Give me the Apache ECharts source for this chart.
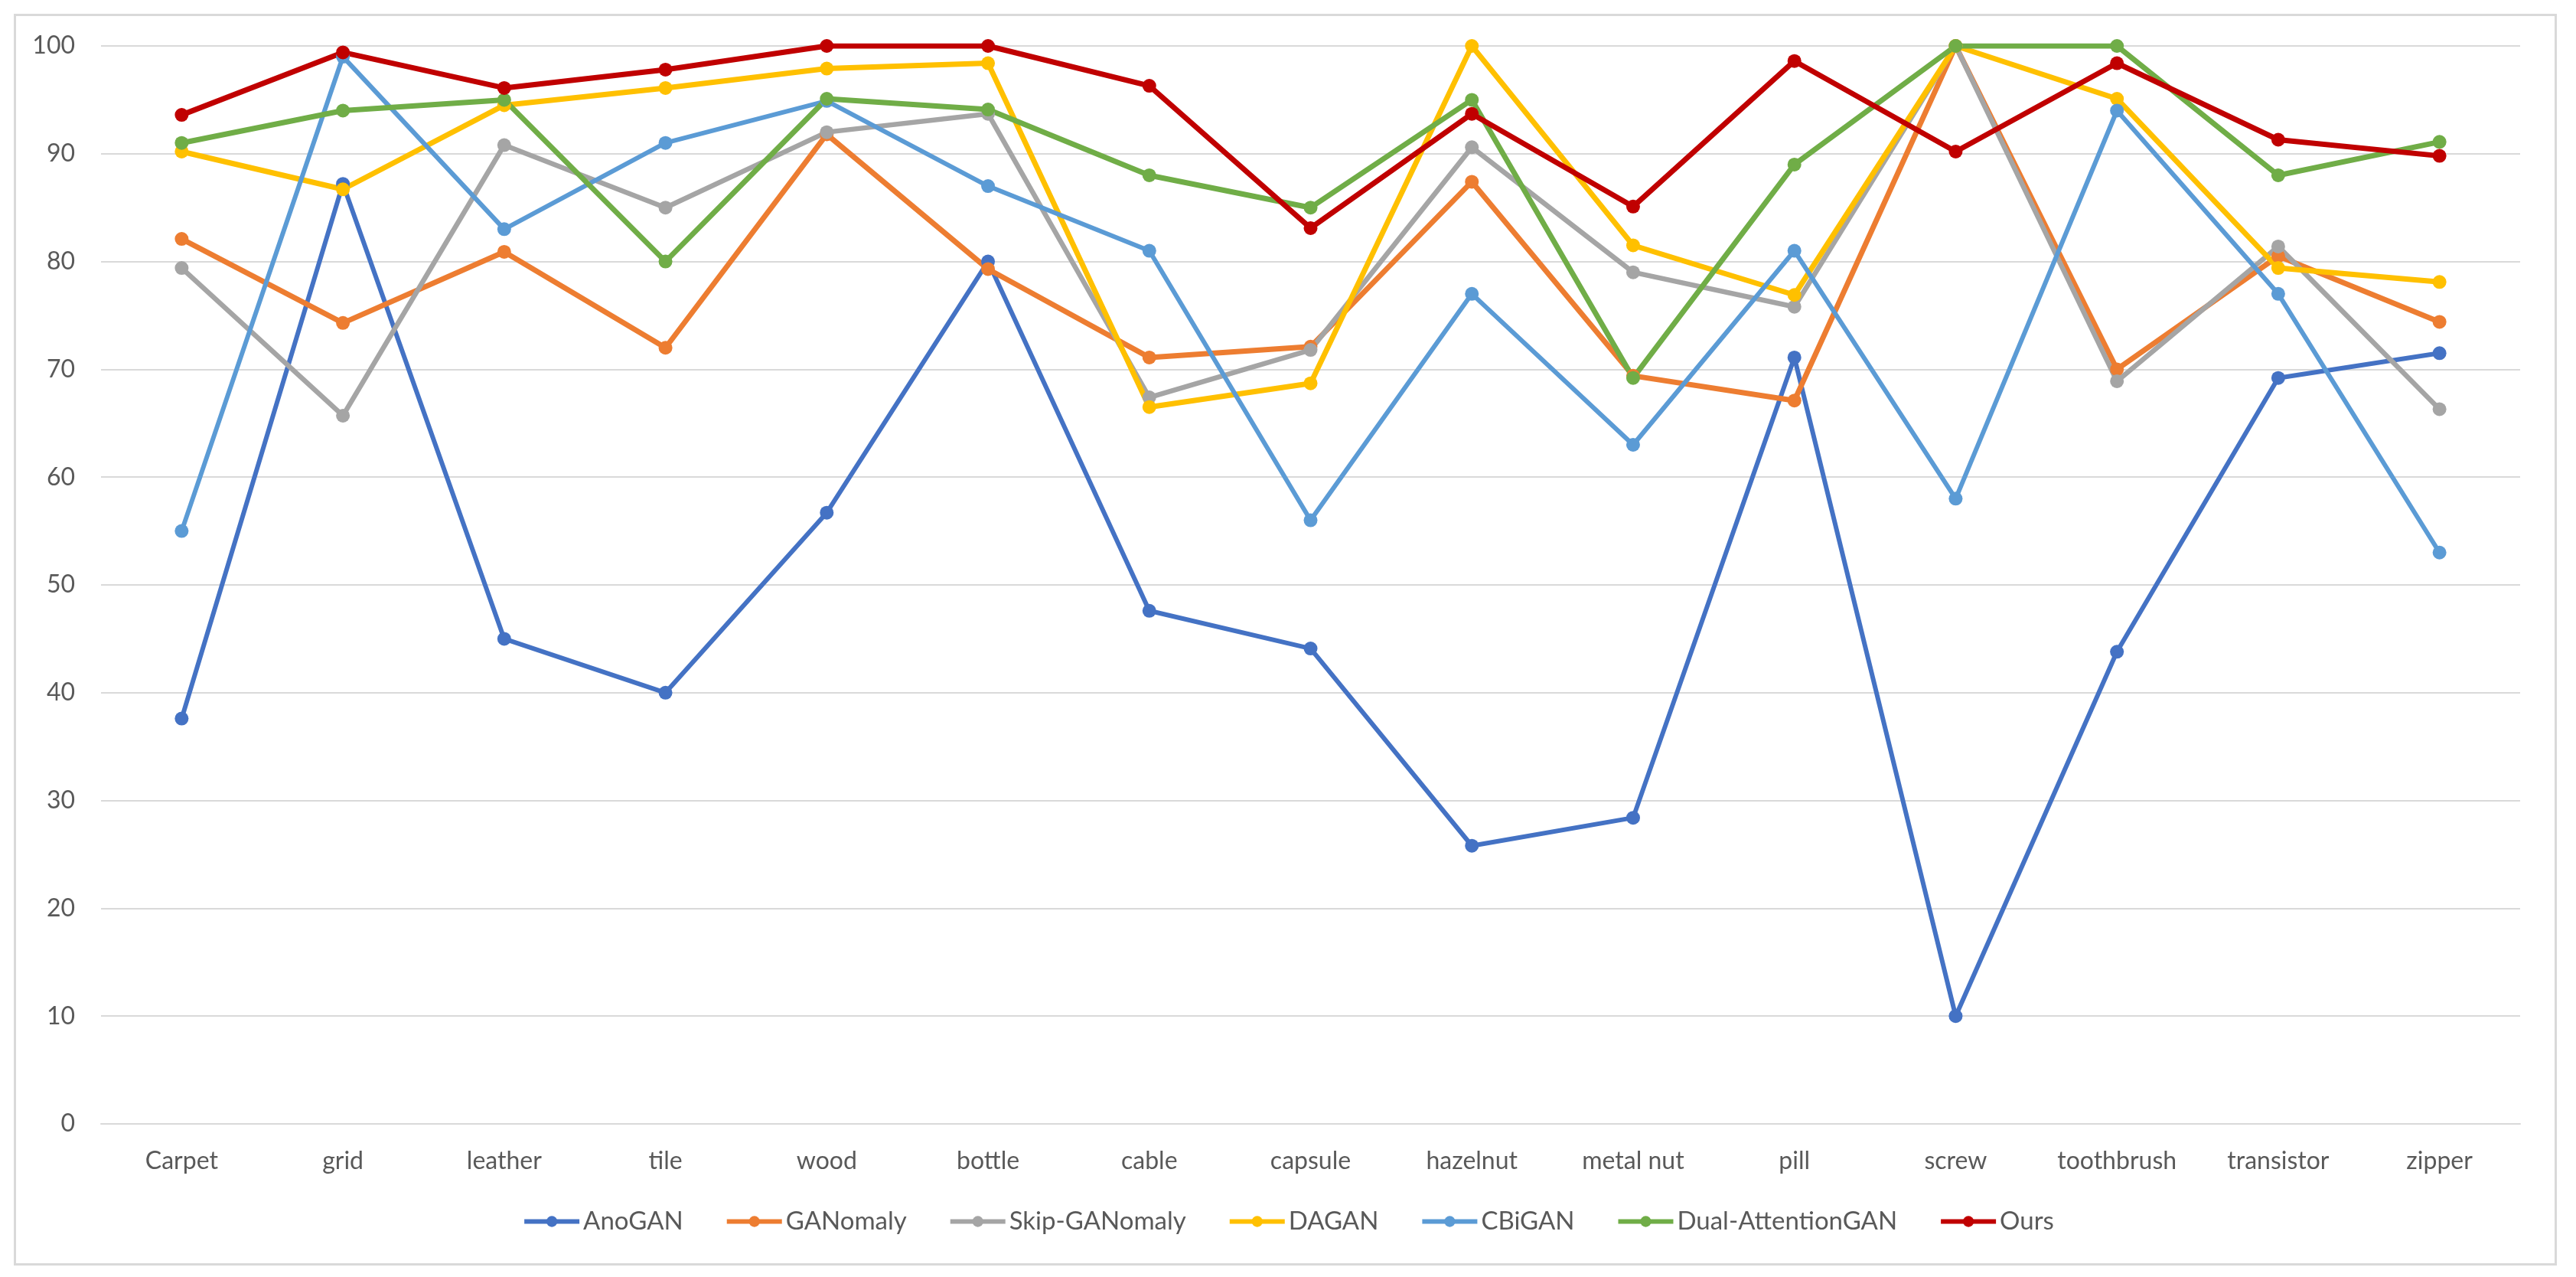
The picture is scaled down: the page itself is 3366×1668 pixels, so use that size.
<!DOCTYPE html>
<html>
<head>
<meta charset="utf-8">
<script src="https://cdn.jsdelivr.net/npm/echarts@6/dist/echarts.min.js"></script>
<style>
html,body{margin:0;padding:0;background:#fff;}
#chart{width:3366px;height:1668px;}
</style>
</head>
<body>
<div id="chart"></div>
<script>
const categories = ['Carpet','grid','leather','tile','wood','bottle','cable','capsule','hazelnut','metal nut','pill','screw','toothbrush','transistor','zipper'];
const yTicks = {min: 0, max: 100, interval: 10};

const AnoGAN          = [37.6, 87.2, 45.0, 40.0, 56.7, 80.0, 47.6, 44.1, 25.8, 28.4, 71.1, 10.0, 43.8, 69.2, 71.5];
const GANomaly        = [82.1, 74.3, 80.9, 72.0, 91.8, 79.3, 71.1, 72.1, 87.4, 69.4, 67.1, 100, 70.0, 80.5, 74.4];
const SkipGANomaly    = [79.4, 65.7, 90.8, 85.0, 92.0, 93.7, 67.4, 71.8, 90.6, 79.0, 75.8, 100, 68.9, 81.4, 66.3];
const DAGAN           = [90.2, 86.7, 94.5, 96.1, 97.9, 98.4, 66.5, 68.7, 100, 81.5, 76.9, 100, 95.1, 79.4, 78.1];
const CBiGAN          = [55.0, 99.0, 83.0, 91.0, 94.9, 87.0, 81.0, 56.0, 77.0, 63.0, 81.0, 58.0, 94.0, 77.0, 53.0];
const DualAttentionGAN= [91.0, 94.0, 95.0, 80.0, 95.1, 94.1, 88.0, 85.0, 95.0, 69.2, 89.0, 100, 100, 88.0, 91.1];
const Ours            = [93.6, 99.4, 96.1, 97.8, 100, 100, 96.3, 83.1, 93.7, 85.1, 98.6, 90.2, 98.4, 91.3, 89.8];

const seriesDefs = [
  {name:'AnoGAN', data:AnoGAN, color:'#4472C4', w:6},
  {name:'GANomaly', data:GANomaly, color:'#ED7D31', w:7},
  {name:'Skip-GANomaly', data:SkipGANomaly, color:'#A5A5A5', w:6.5},
  {name:'DAGAN', data:DAGAN, color:'#FFC000', w:7},
  {name:'CBiGAN', data:CBiGAN, color:'#5B9BD5', w:6},
  {name:'Dual-AttentionGAN', data:DualAttentionGAN, color:'#70AD47', w:7},
  {name:'Ours', data:Ours, color:'#C00000', w:7}
];

const fontFam = 'Lato, "Open Sans", sans-serif';

const chart = echarts.init(document.getElementById('chart'), null, {renderer:'canvas'});
chart.setOption({
  animation:false,
  backgroundColor:'#ffffff',
  graphic:[{
    type:'rect', left:17, top:17,
    shape:{width:3320, height:1632},
    style:{fill:'none', stroke:'#D9D9D9', lineWidth:3},
    silent:true, z:-10
  }],
  grid:{left:132, right:73, top:60, bottom:200, containLabel:false},
  legend:{
    top:1574, left:'center',
    itemWidth:72, itemHeight:18, itemGap:54,
    lineStyle:{width:6},
    textStyle:{fontFamily:fontFam, fontSize:33, color:'#595959'},
    data:seriesDefs.map(s=>s.name)
  },
  xAxis:{
    type:'category', data:categories, boundaryGap:true,
    axisLine:{show:true, lineStyle:{color:'#D9D9D9', width:2}},
    axisTick:{show:false},
    axisLabel:{fontFamily:fontFam, fontSize:32, color:'#595959', margin:33, interval:0}
  },
  yAxis:{
    type:'value', min:yTicks.min, max:yTicks.max, interval:yTicks.interval,
    axisLine:{show:false}, axisTick:{show:false},
    splitLine:{lineStyle:{color:'#D9D9D9', width:2}},
    axisLabel:{fontFamily:fontFam, fontSize:32, color:'#595959', margin:34}
  },
  series: seriesDefs.map(s=>({
    name:s.name, type:'line', data:s.data,
    symbol:'circle', symbolSize:18,
    lineStyle:{color:s.color, width:s.w},
    itemStyle:{color:s.color},
    emphasis:{disabled:true}
  }))
});
</script>
</body>
</html>
